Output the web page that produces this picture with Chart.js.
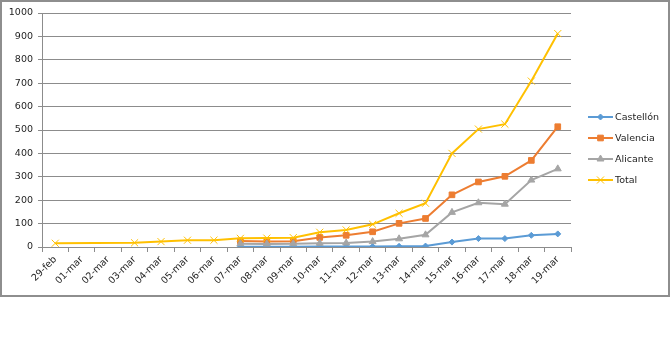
<!DOCTYPE html>
<html>
<head>
<meta charset="utf-8">
<script src="https://cdn.jsdelivr.net/npm/chart.js@4/dist/chart.umd.min.js"></script>
<style>
  html, body { margin: 0; padding: 0; background: #fff; }
  .chart-box {
    position: absolute; left: 0; top: 0;
    width: 666px; height: 293px;
    border: 2px solid #8e8e8e;
  }
  canvas { display: block; }
</style>
</head>
<body>
<div class="chart-box"><canvas id="casos" width="666" height="293"></canvas></div>
<script>
// -----------------------------------------------------------------------------
// Data — cumulative cases per province, one entry per day
// -----------------------------------------------------------------------------

const days = [
  '29-feb', '01-mar', '02-mar', '03-mar', '04-mar', '05-mar', '06-mar',
  '07-mar', '08-mar', '09-mar', '10-mar', '11-mar', '12-mar', '13-mar',
  '14-mar', '15-mar', '16-mar', '17-mar', '18-mar', '19-mar',
];

const castellon = [null, null, null, null, null, null, null,
  1, 1, 1, 2, 2, 2, 3, 4, 21, 36, 36, 50, 56];
const valencia = [null, null, null, null, null, null, null,
  26, 24, 25, 41, 50, 65, 101, 122, 223, 278, 302, 370, 514];
const alicante = [null, null, null, null, null, null, null,
  14, 13, 14, 16, 17, 23, 35, 52, 148, 189, 183, 286, 334];
const total = [16, null, null, 18, 23, 29, 29,
  37, 38, 40, 63, 73, 97, 144, 187, 400, 504, 525, 709, 912];

const yTicks = { min: 0, max: 1000, step: 100 };

// -----------------------------------------------------------------------------
// Styling
// -----------------------------------------------------------------------------

const FONT = 'DejaVu Sans';
const AXIS_GRAY = '#8c8c8c';
const TEXT = '#1e1e1e';

function series(label, data, color, pointStyle, radius, order) {
  return {
    label,
    data,
    order,
    borderColor: color,
    backgroundColor: color,
    pointBackgroundColor: color,
    pointBorderColor: color,
    borderWidth: 2,
    pointStyle,
    pointRadius: radius,
    pointBorderWidth: 1,
    spanGaps: true,
    tension: 0,
  };
}

// Side legend: line sample with the marker in the middle, Excel-like.
const sideLegend = {
  id: 'sideLegend',
  afterDraw(chart) {
    const ctx = chart.ctx;
    const sets = chart.data.datasets;
    const rowH = 21;
    const x0 = chart.chartArea.right + 17;
    let y = chart.height / 2 - ((sets.length - 1) * rowH) / 2;
    ctx.save();
    ctx.font = `9.5px "${FONT}"`;
    ctx.textBaseline = 'middle';
    ctx.textAlign = 'left';
    for (const ds of sets) {
      ctx.strokeStyle = ds.borderColor;
      ctx.lineWidth = ds.borderWidth;
      ctx.beginPath();
      ctx.moveTo(x0, y);
      ctx.lineTo(x0 + 25, y);
      ctx.stroke();
      ctx.fillStyle = ds.pointBackgroundColor;
      ctx.lineWidth = ds.pointBorderWidth;
      Chart.helpers.drawPoint(ctx, {
        pointStyle: ds.pointStyle,
        radius: ds.pointRadius,
        borderWidth: ds.pointBorderWidth,
        rotation: 0,
      }, x0 + 12.5, y);
      ctx.fillStyle = TEXT;
      ctx.fillText(ds.label, x0 + 27, y + 0.5);
      y += rowH;
    }
    ctx.restore();
  },
};

// -----------------------------------------------------------------------------
// Chart
// -----------------------------------------------------------------------------

new Chart(document.getElementById('casos'), {
  type: 'line',
  data: {
    labels: days,
    datasets: [
      series('Castellón', castellon, '#5b9bd5', 'rectRot', 3, 3),
      series('Valencia', valencia, '#ed7d31', 'rect', 4, 2),
      series('Alicante', alicante, '#a5a5a5', 'triangle', 4, 1),
      series('Total', total, '#ffc000', 'crossRot', 5, 0),
    ],
  },
  options: {
    responsive: false,
    animation: false,
    events: [],
    devicePixelRatio: 1,
    layout: { padding: { top: 11, right: 97, bottom: 0, left: 0 } },
    plugins: {
      legend: { display: false },
      tooltip: { enabled: false },
    },
    scales: {
      x: {
        offset: true,
        grid: {
          offset: true,
          drawOnChartArea: false,
          drawTicks: true,
          tickLength: 5,
          color: AXIS_GRAY,
        },
        border: { display: true, color: AXIS_GRAY, width: 1 },
        ticks: {
          autoSkip: false,
          minRotation: 45,
          maxRotation: 45,
          padding: 2,
          color: TEXT,
          font: { family: FONT, size: 9.5 },
        },
        afterFit: (scale) => { scale.height = 48; },
      },
      y: {
        min: yTicks.min,
        max: yTicks.max,
        grid: {
          color: AXIS_GRAY,
          drawTicks: true,
          tickLength: 4,
        },
        border: { display: true, color: AXIS_GRAY, width: 1 },
        ticks: {
          stepSize: yTicks.step,
          padding: 5,
          color: TEXT,
          font: { family: FONT, size: 9.5 },
          callback: (v) => String(v),
        },
        afterFit: (scale) => { scale.width = 40; },
      },
    },
  },
  plugins: [sideLegend],
});
</script>
</body>
</html>
